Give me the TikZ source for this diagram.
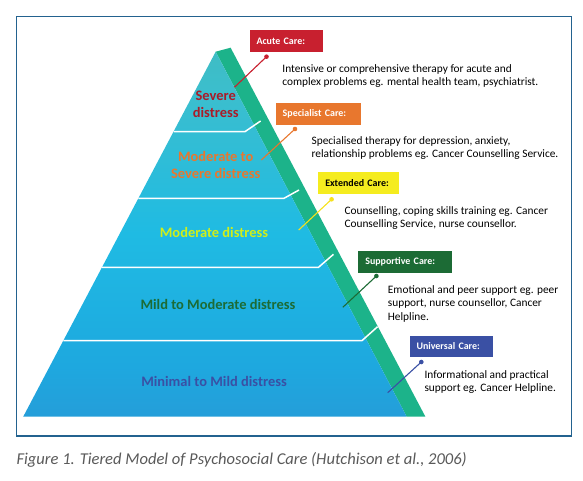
\documentclass[tikz,border=0pt]{standalone}
\usepackage{fontspec}
\setmainfont{Carlito}
\usetikzlibrary{positioning}

\definecolor{acute}{HTML}{C8202F}
\definecolor{specialist}{HTML}{E8772E}
\definecolor{extended}{HTML}{F5EC1F}
\definecolor{supportive}{HTML}{1C6B35}
\definecolor{universal}{HTML}{3A50A4}
\definecolor{strip}{HTML}{1CB38A}
\definecolor{frame}{HTML}{23628F}
\definecolor{tierA}{HTML}{2B77BF}
\definecolor{tierB}{HTML}{3088CB}
\definecolor{tierC}{HTML}{2898D6}
\definecolor{tierD}{HTML}{1EA8DF}
\definecolor{tierE}{HTML}{1FBBE3}
\definecolor{tierF}{HTML}{3BBECE}
\definecolor{tierG}{HTML}{46BBB0}
\definecolor{tierH}{HTML}{4BBAAA}
\pgfdeclareverticalshading{tiers}{100bp}{color(0bp)=(tierA); color(10bp)=(tierB);
  color(21bp)=(tierC); color(32bp)=(tierD); color(50bp)=(tierE);
  color(69bp)=(tierF); color(87bp)=(tierG); color(100bp)=(tierH)}

\begin{document}
\begin{tikzpicture}[x=1bp, y=-1bp,
    every node/.style={inner sep=0pt},
    tierlabel/.style={font=\fontsize{14.5}{17}\selectfont\bfseries, align=center},
    carebox/.style={fill=#1, anchor=north west, minimum height=21.7bp,
      inner xsep=7bp, align=left, text=white,
      font=\fontsize{10}{12}\selectfont\bfseries},
    caretext/.style={anchor=base west, align=left,
      font=\fontsize{11.4}{13.5}\selectfont},
    link/.style={draw=#1, line width=1.1bp}]
  \useasboundingbox (0,0) rectangle (583,481);
  \draw[frame, line width=1.2bp] (16.5,16.5) rectangle (571.5,436);

  % pyramid and side strip
  \coordinate (apex) at (215.7,51.7);
  \coordinate (baseL) at (23.2,416.7);
  \coordinate (baseR) at (406.7,416.7);
  \coordinate (stripT) at (230.6,47.7);
  \coordinate (stripB) at (425.4,416.7);
  \fill[strip] (apex) -- (stripT) -- (stripB) -- (baseR) -- cycle;
  \shade[shading=tiers] (apex) -- (baseR) -- (baseL) -- cycle;

  % tier borders
  \foreach \y/\xr/\xe/\ye in {131.7/244.9/260.6/121, 198.3/284/299/190,
                              267.3/318.5/333.5/254.3, 340.7/361.9/377.6/326.7} {
    \pgfmathsetmacro{\xl}{215.7-0.5274*(\y-51.7)}
    \draw[white, line width=1.5bp] (\xl,\y) -- (\xr,\y) -- (\xe,\ye);
  }

  \node[tierlabel, text=acute!85!black] (severe) at (215.7,104.7) {Severe\\distress};
  \node[tierlabel, text=specialist] (modSevere) at (215.7,165.3) {Moderate to\\Severe distress};
  \node[tierlabel, text=extended!85!green] (moderate) at (214,232.7) {Moderate distress};
  \node[tierlabel, text=supportive] (mildMod) at (218,304) {Mild to Moderate distress};
  \node[tierlabel, text=universal] (minMild) at (214,381.7) {Minimal to Mild distress};

  % care levels
  \node[carebox=acute, text width=59.3bp] (acuteBox) at (249.3,30) {Acute Care:};
  \node[carebox=specialist, text width=71.2bp] (specBox) at (275.5,102.7) {Specialist Care:};
  \node[carebox=extended, text width=66.4bp, text=black] (extBox) at (318.1,172.3) {Extended Care:};
  \node[carebox=supportive, text width=79.9bp] (suppBox) at (358.1,251) {Supportive Care:};
  \node[carebox=universal, text width=69.4bp] (univBox) at (409.3,335.3) {Universal Care:};

  \node[caretext] (acuteTxt) at (282.2,85.8)
    {Intensive or comprehensive therapy for acute and\\complex problems eg. mental health team, psychiatrist.};
  \node[caretext] (specTxt) at (311.4,157.8)
    {Specialised therapy for depression, anxiety,\\relationship problems eg. Cancer Counselling Service.};
  \node[caretext] (extTxt) at (344.3,228)
    {Counselling, coping skills training eg. Cancer\\Counselling Service, nurse counsellor.};
  \node[caretext] (suppTxt) at (387.7,320.3)
    {Emotional and peer support eg. peer\\support, nurse counsellor, Cancer\\Helpline.};
  \node[caretext] (univTxt) at (424.3,391.5)
    {Informational and practical\\support eg. Cancer Helpline.};

  % pointers
  \coordinate (acuteDot) at (266.5,56.7);   \coordinate (acuteEnd) at (234.4,87.3);
  \coordinate (specDot) at (295,129);       \coordinate (specEnd) at (261.3,160);
  \coordinate (extDot) at (331.6,199.3);    \coordinate (extEnd) at (298.7,230);
  \coordinate (suppDot) at (376.4,276);     \coordinate (suppEnd) at (342.8,307.3);
  \coordinate (univDot) at (421.3,362);     \coordinate (univEnd) at (387.7,392.7);
  \draw[link=acute] (acuteDot) -- (acuteEnd);
  \draw[link=specialist] (specDot) -- (specEnd);
  \draw[link=extended!90!orange] (extDot) -- (extEnd);
  \draw[link=supportive] (suppDot) -- (suppEnd);
  \draw[link=universal] (univDot) -- (univEnd);
  \foreach \c/\col in {acuteDot/acute, specDot/specialist, extDot/extended!90!orange,
                       suppDot/supportive, univDot/universal}
    \fill[\col] (\c) circle (2.3bp);

  \node[anchor=west, text=black!65, font=\fontsize{16.6}{19}\selectfont\itshape] (caption)
    at (16.4,459.5) {Figure 1. Tiered Model of Psychosocial Care (Hutchison et al., 2006)};
\end{tikzpicture}
\end{document}
